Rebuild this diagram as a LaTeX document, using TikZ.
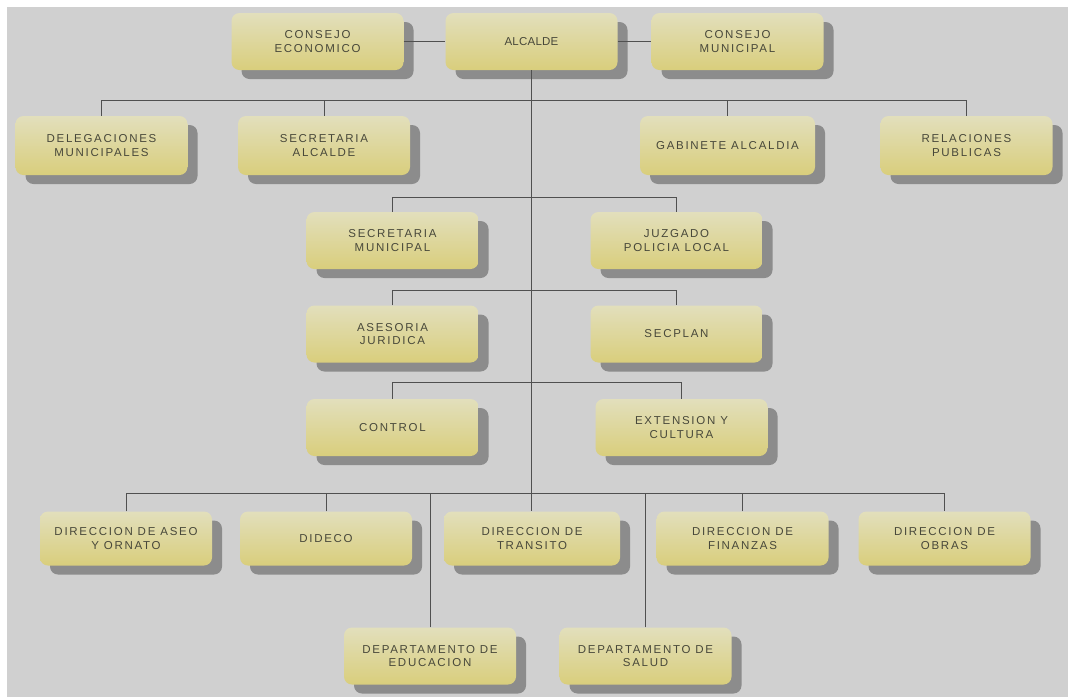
\documentclass[tikz,border=0pt]{standalone}
\usepackage{fontspec}
\setmainfont{Liberation Sans}[LetterSpace=15]
\usetikzlibrary{shadows}
\definecolor{bggray}{HTML}{D0D0D0}
\definecolor{boxtop}{HTML}{E2DFBC}
\definecolor{boxbot}{HTML}{D9CE7C}
\definecolor{shadowgray}{HTML}{8C8C8C}
\definecolor{txtgray}{HTML}{48483A}
\definecolor{linegray}{HTML}{505050}
\tikzset{
  orgbox/.style={rounded corners=8pt, minimum width=172pt, minimum height=57pt,
    top color=boxtop, bottom color=boxbot, draw=none, align=center,
    text=txtgray, font=\fontsize{11.5}{13.5}\selectfont, inner sep=2pt,
    drop shadow={shadow xshift=10pt, shadow yshift=-9pt, fill=shadowgray, opacity=1}},
  lowbox/.style={orgbox, minimum height=54pt},
  link/.style={draw=linegray, line width=1pt}
}
\begin{document}
\begin{tikzpicture}[x=1pt,y=-1pt]
\useasboundingbox (0,0) rectangle (1068,697);
\fill[white] (0,0) rectangle (1068,697);
\fill[bggray] (7,7) rectangle (1068,697);
% row 1
\node[orgbox] (ce) at (317.5,41.5) {CONSEJO\\ECONOMICO};
\node[orgbox] (alc) at (531.5,41.5) {\addfontfeature{LetterSpace=2}ALCALDE};
\node[orgbox] (cm) at (737.5,41.5) {CONSEJO\\MUNICIPAL};
% row 2
\node[orgbox, minimum height=59pt] (del) at (101.5,145.5) {DELEGACIONES\\MUNICIPALES};
\node[orgbox, minimum height=59pt] (sa) at (324,145.5) {SECRETARIA\\ALCALDE};
\node[orgbox, minimum height=59pt, minimum width=175pt] (gab) at (727.5,145.5) {GABINETE ALCALDIA};
\node[orgbox, minimum height=59pt] (rp) at (966.5,145.5) {RELACIONES\\PUBLICAS};
% row 3-5
\node[orgbox] (sm) at (392.5,240.5) {SECRETARIA\\MUNICIPAL};
\node[orgbox] (jpl) at (676.5,240.5) {JUZGADO\\POLICIA LOCAL};
\node[orgbox] (aj) at (392.5,334) {ASESORIA\\JURIDICA};
\node[orgbox] (sec) at (676.5,334) {SECPLAN};
\node[orgbox] (ctl) at (392.5,427.5) {CONTROL};
\node[orgbox] (ext) at (681.5,427.5) {EXTENSION Y\\CULTURA};
% row 6
\node[lowbox] (aseo) at (126,538.5) {DIRECCION DE ASEO\\Y ORNATO};
\node[lowbox] (did) at (326,538.5) {DIDECO};
\node[lowbox, minimum width=176pt] (tra) at (532,538.5) {DIRECCION DE\\TRANSITO};
\node[lowbox] (fin) at (742.5,538.5) {DIRECCION DE\\FINANZAS};
\node[lowbox] (obr) at (944.5,538.5) {DIRECCION DE\\OBRAS};
% row 7
\node[orgbox] (edu) at (430,656) {DEPARTAMENTO DE\\EDUCACION};
\node[orgbox] (sal) at (645.5,656) {DEPARTAMENTO DE\\SALUD};
% bus coordinates
\coordinate (b2) at (531,100);
\coordinate (b3) at (531,197);
\coordinate (b4) at (531,290);
\coordinate (b5) at (531,382);
\coordinate (b6) at (531,493);
% connectors
\draw[link] (ce.east) -- (alc.west);
\draw[link] (alc.east) -- (cm.west);
\draw[link] (alc.south -| b2) -- (b6);
\draw[link] (b6) -- (tra.north -| b6);
\draw[link] (del.north) -- (del.north |- b2) -- (rp.north |- b2) -- (rp.north);
\draw[link] (sa.north) -- (sa.north |- b2);
\draw[link] (gab.north) -- (gab.north |- b2);
\draw[link] (sm.north) -- (sm.north |- b3) -- (jpl.north |- b3) -- (jpl.north);
\draw[link] (aj.north) -- (aj.north |- b4) -- (sec.north |- b4) -- (sec.north);
\draw[link] (ctl.north) -- (ctl.north |- b5) -- (ext.north |- b5) -- (ext.north);
\draw[link] (aseo.north) -- (aseo.north |- b6) -- (obr.north |- b6) -- (obr.north);
\draw[link] (did.north) -- (did.north |- b6);
\draw[link] (fin.north) -- (fin.north |- b6);
\draw[link] (edu.north) -- (edu.north |- b6);
\draw[link] (sal.north) -- (sal.north |- b6);
\end{tikzpicture}
\end{document}
